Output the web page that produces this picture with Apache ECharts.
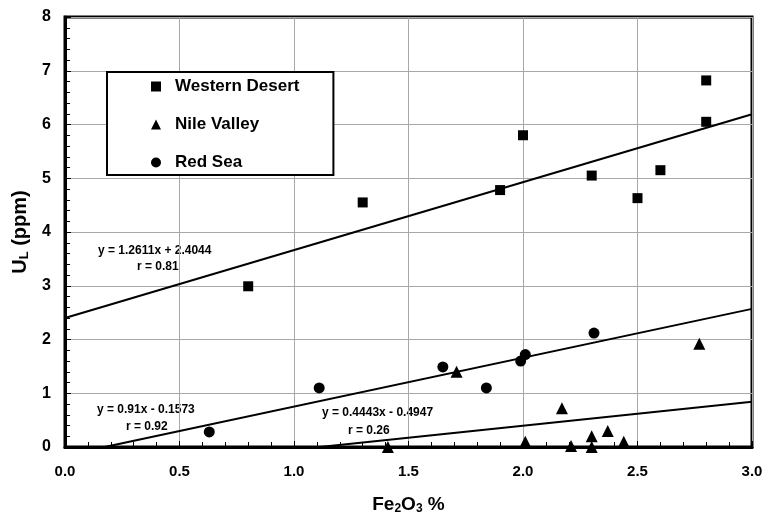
<!DOCTYPE html>
<html>
<head>
<meta charset="utf-8">
<script src="https://cdn.jsdelivr.net/npm/echarts@6/dist/echarts.min.js"></script>
<style>
  html, body { margin: 0; padding: 0; background: #fff; }
  #chart { width: 769px; height: 518px; }
</style>
</head>
<body>
<div id="chart"></div>
<script>
// --- Data (x = Fe2O3 %, y = U_L ppm) ---
const westernDesert = [[0.8, 2.99], [1.3, 4.55], [1.9, 4.78], [2.0, 5.8], [2.3, 5.05],
                       [2.5, 4.63], [2.6, 5.15], [2.8, 6.82], [2.8, 6.05]];
const nileValley = [[1.41, 0.0], [1.71, 1.4], [2.01, 0.1], [2.17, 0.72], [2.21, 0.02],
                    [2.3, 0.2], [2.3, 0.0], [2.37, 0.3], [2.44, 0.1], [2.77, 1.92]];
const redSea = [[0.63, 0.28], [1.11, 1.1], [1.65, 1.49], [1.84, 1.1], [1.99, 1.6],
                [2.01, 1.72], [2.31, 2.12]];

// trend line end points (from the printed fits, clipped at y = 0 and x = 3)
const westernFit = [[0, 2.40], [3.0, 6.19]];
const redSeaFit = [[0.173, 0], [3.0, 2.57]];
const nileFit = [[1.113, 0], [3.0, 0.84]];

const fitLabels = [
    { eq: 'y = 1.2611x + 2.4044', r: 'r = 0.81' },
    { eq: 'y = 0.91x - 0.1573', r: 'r = 0.92' },
    { eq: 'y = 0.4443x - 0.4947', r: 'r = 0.26' }
];

const FONT = '"Liberation Sans", Arial, sans-serif';

const chart = echarts.init(document.getElementById('chart'));

function fitLine(data) {
    return {
        type: 'line', data: data, symbol: 'none', silent: true,
        lineStyle: { color: '#000', width: 2 }, z: 3
    };
}

// left = left edge of the text box
function eqText(text, x, y) {
    return {
        type: 'text', left: x, top: y,
        style: { text: text, font: 'bold 12px ' + FONT, fill: '#000' }
    };
}

chart.setOption({
    animation: false,
    backgroundColor: '#fff',
    grid: {
        left: 65, right: 17, top: 17, bottom: 71,
        outerBoundsMode: 'none',
        show: true, borderColor: '#000', borderWidth: 3
    },
    legend: {
        orient: 'vertical', left: 107, top: 72,
        padding: [6, 34, 4, 44], itemGap: 21,
        itemWidth: 10, itemHeight: 10,
        backgroundColor: '#fff', borderColor: '#000', borderWidth: 2,
        textStyle: { fontFamily: FONT, fontWeight: 'bold', fontSize: 17, color: '#000', padding: [0, 0, 0, 9] },
        data: [
            { name: 'Western Desert', icon: 'rect' },
            { name: 'Nile Valley', icon: 'triangle' },
            { name: 'Red Sea', icon: 'circle' }
        ]
    },
    xAxis: {
        type: 'value', min: 0, max: 3, interval: 0.5,
        name: '{a|Fe}{s|2}{a|O}{s|3}{a| %}', nameLocation: 'middle', nameGap: 47,
        nameTextStyle: {
            rich: {
                a: { fontFamily: FONT, fontWeight: 'bold', fontSize: 19, color: '#000' },
                s: { fontFamily: FONT, fontWeight: 'bold', fontSize: 12, color: '#000', padding: [9, 0, 0, 0] }
            }
        },
        axisLine: { lineStyle: { color: '#000', width: 3 } },
        axisTick: { inside: true, length: 6, lineStyle: { color: '#000' } },
        minorTick: { show: true, splitNumber: 5, length: 5, lineStyle: { color: '#000' } },
        splitLine: { show: true, lineStyle: { color: '#a8a8a8', width: 1 } },
        axisLabel: {
            fontFamily: FONT, fontWeight: 'bold', fontSize: 15, color: '#000', margin: 17,
            formatter: v => v.toFixed(1)
        }
    },
    yAxis: {
        type: 'value', min: 0, max: 8, interval: 1,
        name: '{a|U}{s|L}{a| (ppm)}', nameLocation: 'middle', nameGap: 28, nameRotate: 90,
        nameTextStyle: {
            rich: {
                a: { fontFamily: FONT, fontWeight: 'bold', fontSize: 20, color: '#000' },
                s: { fontFamily: FONT, fontWeight: 'bold', fontSize: 13, color: '#000', padding: [9, 0, 0, 0] }
            }
        },
        axisLine: { lineStyle: { color: '#000', width: 3 } },
        axisTick: { inside: true, length: 6, lineStyle: { color: '#000' } },
        minorTick: { show: true, splitNumber: 5, length: 5, lineStyle: { color: '#000' } },
        splitLine: { show: true, lineStyle: { color: '#a8a8a8', width: 1 } },
        axisLabel: { fontFamily: FONT, fontWeight: 'bold', fontSize: 16, color: '#000', margin: 14 }
    },
    graphic: [
        eqText(fitLabels[0].eq, 98, 245),
        eqText(fitLabels[0].r, 137, 261),
        eqText(fitLabels[1].eq, 97, 404),
        eqText(fitLabels[1].r, 126, 421),
        eqText(fitLabels[2].eq, 322, 407),
        eqText(fitLabels[2].r, 348, 425)
    ],
    series: [
        fitLine(westernFit),
        fitLine(redSeaFit),
        fitLine(nileFit),
        {
            name: 'Western Desert', type: 'scatter', symbol: 'rect', symbolSize: 10,
            itemStyle: { color: '#000', opacity: 1 }, data: westernDesert, z: 4
        },
        {
            name: 'Nile Valley', type: 'scatter', symbol: 'triangle', symbolSize: 12,
            itemStyle: { color: '#000', opacity: 1 }, data: nileValley, z: 4
        },
        {
            name: 'Red Sea', type: 'scatter', symbol: 'circle', symbolSize: 11,
            itemStyle: { color: '#000', opacity: 1 }, data: redSea, z: 4
        }
    ]
});
</script>
</body>
</html>
